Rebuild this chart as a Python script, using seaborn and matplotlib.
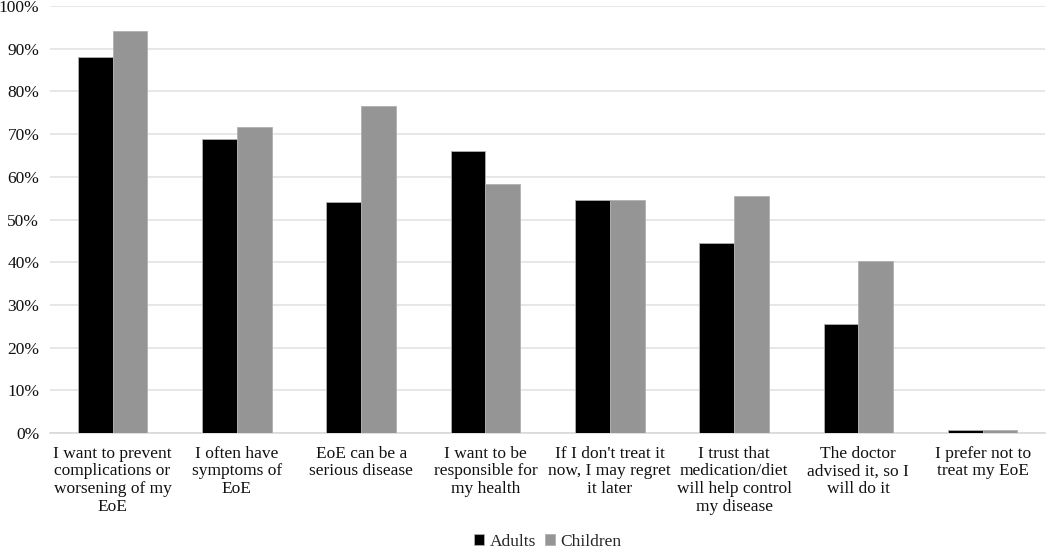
import pandas as pd
import seaborn as sns
import matplotlib.pyplot as plt
from matplotlib.ticker import PercentFormatter

categories = [
    'I want to prevent\ncomplications or\nworsening of my\nEoE',
    'I often have\nsymptoms of\nEoE',
    'EoE can be a\nserious disease',
    'I want to be\nresponsible for\nmy health',
    "If I don't treat it\nnow, I may regret\nit later",
    'I trust that\nmedication/diet\nwill help control\nmy disease',
    'The doctor\nadvised it, so I\nwill do it',
    'I prefer not to\ntreat my EoE',
]
adults = [88.1, 68.9, 54.1, 66.0, 54.5, 44.4, 25.5, 0.7]
children = [94.2, 71.6, 76.6, 58.4, 54.7, 55.5, 40.4, 0.7]
groups = ['Adults', 'Children']

df = pd.DataFrame({
    'reason': categories * 2,
    'group': ['Adults'] * len(categories) + ['Children'] * len(categories),
    'pct': adults + children,
})

sns.set_style('white')
plt.rcParams['font.family'] = ['Liberation Serif', 'DejaVu Serif']

fig = plt.figure(figsize=(10.5, 5.51), dpi=100)
ax = fig.add_axes([0.048, 0.214, 0.947, 0.775])

sns.barplot(data=df, x='reason', y='pct', hue='group', hue_order=groups,
            palette=['#000000', '#959595'], width=0.56, saturation=1,
            edgecolor='#b0b0b0', linewidth=0.6, ax=ax, zorder=3)

ax.set_ylim(0, 100)
ax.set_xlim(-0.5, len(categories) - 0.5)
ax.set_yticks(range(0, 101, 10))
ax.yaxis.set_major_formatter(PercentFormatter(decimals=0))
ax.yaxis.grid(True, color='#e3e3e3', linewidth=1.2, zorder=0)
ax.set_axisbelow(True)
for s in ['top', 'right', 'left']:
    ax.spines[s].set_visible(False)
ax.spines['bottom'].set_color('#d9d9d9')
ax.spines['bottom'].set_linewidth(1.2)
ax.tick_params(axis='both', length=0, labelsize=12.5, colors='#111111')
ax.tick_params(axis='x', pad=9)
ax.tick_params(axis='y', pad=8)
for lbl in ax.get_xticklabels():
    lbl.set_linespacing(1.15)
ax.set_xlabel('')
ax.set_ylabel('')

ax.legend(loc='lower center', bbox_to_anchor=(0.5, -0.29), ncol=2, frameon=False,
          fontsize=12.5, handlelength=0.6, handleheight=0.6, handletextpad=0.3,
          columnspacing=0.5, borderaxespad=0)

fig.savefig('out.png', dpi=100)
